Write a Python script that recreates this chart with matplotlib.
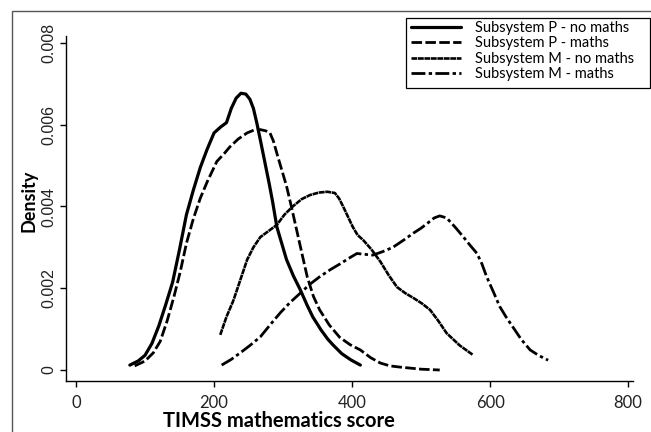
import matplotlib
matplotlib.use("Agg")
import matplotlib.pyplot as plt
from matplotlib.patches import Rectangle

# Data
p_nomaths_x = [78, 90, 100, 110, 120, 130, 140, 150, 160, 170, 180, 190, 200, 210, 218, 225, 232, 239, 246, 252, 257, 262, 268, 274, 280, 285, 291, 298, 305, 315, 325, 335, 343, 355, 365, 372, 385, 398, 412]
p_nomaths_y = [0.00012, 0.00022, 0.00036, 0.00065, 0.00108, 0.0016, 0.00215, 0.00295, 0.0038, 0.0044, 0.00495, 0.0054, 0.0058, 0.00595, 0.00605, 0.0064, 0.00665, 0.00677, 0.00675, 0.00662, 0.0064, 0.00604, 0.00555, 0.00505, 0.00455, 0.0041, 0.0035, 0.0031, 0.0027, 0.0023, 0.00196, 0.00158, 0.0013, 0.00098, 0.00075, 0.00062, 0.0004, 0.00025, 0.00012]

p_maths_x = [85, 100, 112, 122, 132, 142, 151, 160, 170, 180, 190, 204, 215, 223, 235, 248, 258, 267, 275, 281, 286, 291, 298, 305, 312, 320, 328, 335, 344, 353, 367, 382, 397, 412, 427, 441, 455, 470, 500, 527]
p_maths_y = [0.0001, 0.00022, 0.00042, 0.0007, 0.0012, 0.0018, 0.0024, 0.0031, 0.0037, 0.0042, 0.0046, 0.0051, 0.0053, 0.00546, 0.00565, 0.0058, 0.00587, 0.00588, 0.00585, 0.0058, 0.0056, 0.0053, 0.0049, 0.0045, 0.004, 0.0034, 0.0028, 0.00228, 0.0018, 0.00147, 0.0011, 0.0008, 0.00062, 0.00049, 0.0003, 0.00017, 0.0001, 0.00007, 0.00002, 0.0]

m_nomaths_x = [209, 218, 228, 238, 248, 257, 267, 279, 291, 302, 314, 327, 339, 352, 364, 375, 381, 387, 394, 401, 408, 416, 428, 441, 453, 465, 477, 489, 501, 513, 525, 537, 556, 575]
m_nomaths_y = [0.00086, 0.0013, 0.0017, 0.0022, 0.0027, 0.003, 0.00325, 0.0034, 0.00355, 0.0038, 0.004, 0.00418, 0.00428, 0.00434, 0.00436, 0.00433, 0.0042, 0.004, 0.00375, 0.0035, 0.0033, 0.00318, 0.00295, 0.00265, 0.00232, 0.00203, 0.00188, 0.00176, 0.00163, 0.00147, 0.0012, 0.0009, 0.0006, 0.00037]

m_maths_x = [211, 225, 238, 252, 267, 281, 296, 310, 325, 339, 353, 368, 383, 395, 407, 418, 430, 445, 459, 474, 489, 500, 510, 519, 527, 537, 549, 561, 571, 581, 588, 595, 605, 614, 623, 633, 645, 658, 671, 684]
m_maths_y = [0.00012, 0.00026, 0.00042, 0.0006, 0.00081, 0.0011, 0.0014, 0.00165, 0.00188, 0.0021, 0.00228, 0.00245, 0.0026, 0.00273, 0.00285, 0.00283, 0.00281, 0.0029, 0.003, 0.00317, 0.00335, 0.00347, 0.0036, 0.00372, 0.00377, 0.00372, 0.0035, 0.00326, 0.00305, 0.00285, 0.0026, 0.00228, 0.0019, 0.00155, 0.0013, 0.00105, 0.00075, 0.00049, 0.00035, 0.00024]

series_labels = ["Subsystem P - no maths", "Subsystem P - maths",
                 "Subsystem M - no maths", "Subsystem M - maths"]
x_ticks = [0, 200, 400, 600, 800]
y_ticks = [0, 0.002, 0.004, 0.006, 0.008]
y_tick_labels = ["0", "0.002", "0.004", "0.006", "0.008"]

W, H = 651, 432
fig = plt.figure(figsize=(W / 100, H / 100), dpi=100)
ax = fig.add_axes([66 / W, 1 - 381 / H, (633 - 66) / W, (381 - 36) / H])

kw = dict(color="black", solid_joinstyle="round", dash_joinstyle="round",
          solid_capstyle="round")
ax.plot(p_nomaths_x, p_nomaths_y, lw=2.3, ls="-", label=series_labels[0], **kw)
ax.plot(p_maths_x, p_maths_y, lw=2.0, ls=(0, (3.8, 1.2)), label=series_labels[1], **kw)
ax.plot(m_nomaths_x, m_nomaths_y, lw=1.9, ls=(0, (2.2, 0.25)), label=series_labels[2], **kw)
ax.plot(m_maths_x, m_maths_y, lw=2.0, ls=(0, (5, 1.2, 1.2, 1.2)), label=series_labels[3], **kw)

ax.set_xlim(-14.5, 807)
ax.set_ylim(-0.000269, 0.00817)
for s in ["top", "right"]:
    ax.spines[s].set_visible(False)
for s in ["left", "bottom"]:
    ax.spines[s].set_linewidth(1.0)
    ax.spines[s].set_color("black")

ax.set_xticks(x_ticks)
ax.set_xticklabels([str(v) for v in x_ticks], fontfamily="Lato", fontsize=12, color="#222222")
ax.set_yticks(y_ticks)
ax.set_yticklabels(y_tick_labels, fontfamily="Liberation Sans", fontsize=11.5, rotation=90,
                   va="center", color="#222222")
ax.tick_params(axis="x", length=4, width=1, pad=6)
ax.tick_params(axis="y", length=4, width=1, pad=3)

ax.set_xlabel("TIMSS mathematics score", fontfamily="Lato", fontweight="bold", fontsize=14.5)
ax.xaxis.set_label_coords((279 - 66) / (633 - 66), -(421 - 381) / (381 - 36))
ax.xaxis.label.set_va("center")

ax.set_ylabel("Density", fontfamily="Lato", fontweight="bold", fontsize=13)
ax.yaxis.set_label_coords(-(66 - 29) / (633 - 66), (381 - 201) / (381 - 36))
ax.yaxis.label.set_va("center")

leg = ax.legend(loc="upper left", bbox_to_anchor=(411 / W, 1 - 21 / H),
                bbox_transform=fig.transFigure, borderaxespad=0,
                frameon=False, handlelength=3.4, handletextpad=1.0,
                labelspacing=0.1, borderpad=0.0,
                prop={"family": "Lato", "size": 10.5})

# legend box
fig.patches.append(Rectangle((406 / W, 1 - 88 / H), (650 - 406) / W, (88 - 18) / H,
                             transform=fig.transFigure, fill=False,
                             edgecolor="black", linewidth=0.9))
# outer frame
fig.patches.append(Rectangle((12 / W, -0.1), 1.2, 1 - 11 / H + 0.1,
                             transform=fig.transFigure, fill=False,
                             edgecolor="#555555", linewidth=1.0))

fig.savefig("out.png", dpi=100)
